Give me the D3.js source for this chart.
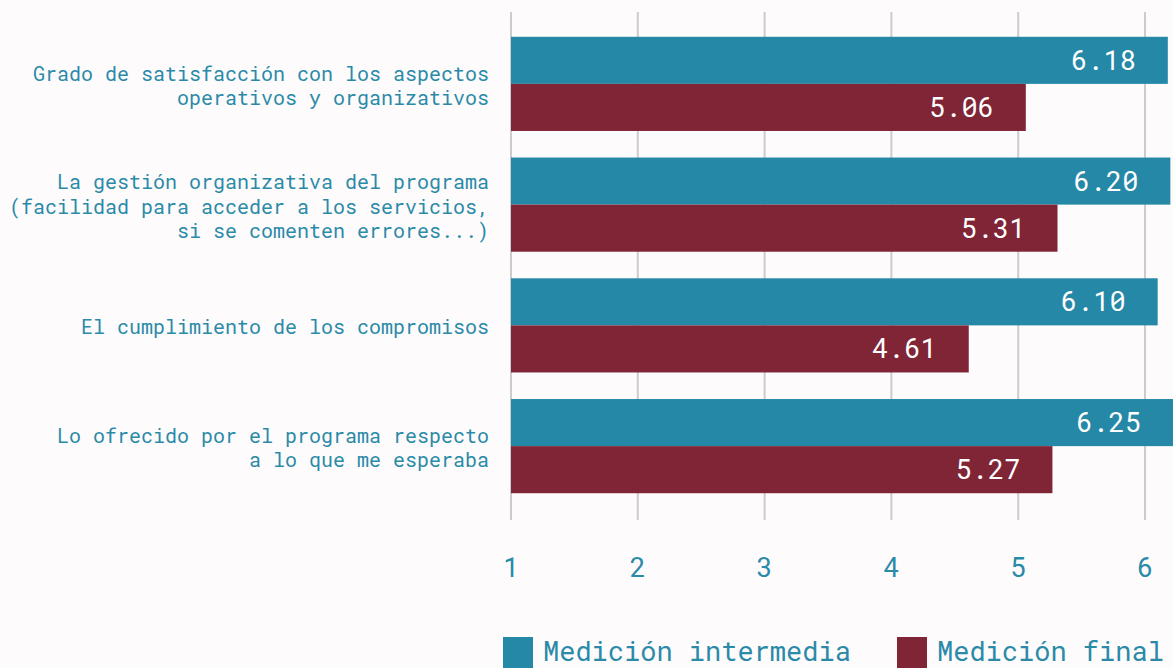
<!DOCTYPE html>
<html>
<head>
<meta charset="utf-8">
<script src="https://cdn.jsdelivr.net/npm/d3@7"></script>
<style>
  html, body { margin: 0; padding: 0; background: #fdfbfc; overflow: hidden; }
  text { font-family: "Roboto Mono", "DejaVu Sans Mono", "Liberation Mono", monospace; }
</style>
</head>
<body>
<div id="chart"></div>
<script>
// Data
var categories = [
  ["Grado de satisfacción con los aspectos", "operativos y organizativos"],
  ["La gestión organizativa del programa", "(facilidad para acceder a los servicios,", "si se comenten errores...)"],
  ["El cumplimiento de los compromisos"],
  ["Lo ofrecido por el programa respecto", "a lo que me esperaba"]
];
var seriesNames = ["Medición intermedia", "Medición final"];
var intermedia = [6.18, 6.20, 6.10, 6.25];
var final = [5.06, 5.31, 4.61, 5.27];
var ticks = [1, 2, 3, 4, 5, 6];

var colors = ["#2688a7", "#7f2536"];
var textColor = "#2a8aa8";

var width = 1173, height = 668;
var svg = d3.select("#chart").append("svg")
    .attr("width", width)
    .attr("height", height);

var x = d3.scaleLinear().domain([1, 6]).range([511, 1145]);
var y = d3.scaleBand().domain(d3.range(categories.length)).range([23.5, 506.5]).paddingInner(0.22).paddingOuter(0.11);

// Grid lines
svg.append("g").selectAll("line")
    .data(ticks)
  .enter().append("line")
    .attr("x1", function(d) { return x(d); })
    .attr("x2", function(d) { return x(d); })
    .attr("y1", 12)
    .attr("y2", 520)
    .attr("stroke", "#cccccc")
    .attr("stroke-width", 2);

// Tick labels
svg.append("g").selectAll("text")
    .data(ticks)
  .enter().append("text")
    .attr("x", function(d) { return x(d); })
    .attr("y", 568)
    .attr("dy", "0.35em")
    .attr("text-anchor", "middle")
    .attr("fill", textColor)
    .style("font-size", "27px")
    .text(function(d) { return d; });

var rows = categories.map(function(c, i) {
  return { i: i, values: [intermedia[i], final[i]] };
});

var barH = y.bandwidth() / 2;

var groups = svg.append("g").selectAll("g")
    .data(rows)
  .enter().append("g")
    .attr("transform", function(d) { return "translate(0," + y(d.i) + ")"; });

groups.selectAll("rect")
    .data(function(d) { return d.values; })
  .enter().append("rect")
    .attr("x", x(1))
    .attr("y", function(d, j) { return j * barH; })
    .attr("width", function(d) { return x(d) - x(1); })
    .attr("height", barH)
    .attr("fill", function(d, j) { return colors[j]; });

groups.selectAll("text.value")
    .data(function(d) { return d.values; })
  .enter().append("text")
    .attr("class", "value")
    .attr("x", function(d) { return Math.min(x(d), width) - 32; })
    .attr("y", function(d, j) { return j * barH + barH / 2; })
    .attr("dy", "0.35em")
    .attr("text-anchor", "end")
    .attr("fill", "#ffffff")
    .style("font-size", "27px")
    .text(function(d) { return d.toFixed(2); });

// Category labels
var lineH = 24.5;
groups.append("text")
    .attr("text-anchor", "end")
    .attr("fill", textColor)
    .style("font-size", "20px")
    .each(function(d) {
      var lines = categories[d.i];
      var t = d3.select(this);
      var start = y.bandwidth() / 2 + 2 - (lines.length - 1) * lineH / 2;
      lines.forEach(function(l, k) {
        t.append("tspan")
          .attr("x", 489)
          .attr("y", start + k * lineH)
          .attr("dy", "0.35em")
          .text(l);
      });
    });

// Legend
var legendX = [503, 897];
var legend = svg.append("g").selectAll("g")
    .data(seriesNames)
  .enter().append("g")
    .attr("transform", function(d, i) { return "translate(" + legendX[i] + ",637)"; });

legend.append("rect")
    .attr("width", 30)
    .attr("height", 31)
    .attr("fill", function(d, i) { return colors[i]; });

legend.append("text")
    .attr("x", 40)
    .attr("y", 15)
    .attr("dy", "0.35em")
    .attr("fill", textColor)
    .style("font-size", "27px")
    .text(function(d) { return d; });
</script>
</body>
</html>
